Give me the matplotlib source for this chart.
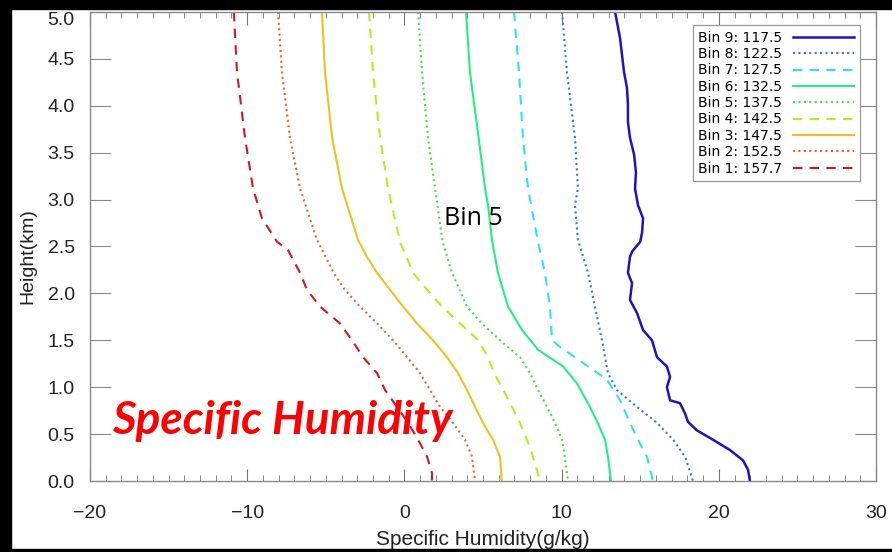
import matplotlib
matplotlib.use('Agg')
import matplotlib.pyplot as plt
from matplotlib.patches import Rectangle
from matplotlib.ticker import MultipleLocator

# profiles: height (km) and specific humidity (g/kg)
h1 = [5.0, 4.36, 3.66, 3.12, 2.8, 2.55, 2.46, 2.22, 2.04, 1.86, 1.68, 1.50, 1.32, 1.15, 0.97, 0.79, 0.62, 0.44, 0.26, 0.08, 0.0]
q1 = [-10.85, -10.65, -10.14, -9.63, -9.06, -8.1, -7.4, -6.64, -6.2, -5.37, -4.1, -3.33, -2.63, -1.74, -1.23, -0.47, 0.23, 0.87, 1.44, 1.76, 1.75]

h2 = [5.0, 4.36, 3.66, 3.12, 2.57, 2.22, 2.04, 1.86, 1.68, 1.50, 1.32, 1.15, 0.97, 0.79, 0.62, 0.44, 0.26, 0.08, 0.0]
q2 = [-8.04, -7.79, -7.28, -6.64, -5.56, -4.5, -3.8, -2.82, -1.74, -0.72, 0.17, 0.99, 1.63, 2.27, 3.09, 3.85, 4.3, 4.43, 4.5]

h3 = [5.0, 4.36, 3.66, 3.12, 2.57, 2.39, 2.22, 2.04, 1.86, 1.68, 1.50, 1.32, 1.15, 0.97, 0.79, 0.62, 0.44, 0.26, 0.0]
q3 = [-5.24, -5.05, -4.6, -3.97, -2.95, -2.38, -1.74, -0.92, -0.09, 0.8, 1.82, 2.71, 3.41, 3.98, 4.5, 5.0, 5.64, 6.08, 6.2]

h4 = [5.0, 4.36, 3.66, 3.12, 2.55, 2.22, 2.04, 1.86, 1.68, 1.50, 1.32, 1.15, 0.97, 0.79, 0.62, 0.44, 0.26, 0.0]
q4 = [-2.25, -2.0, -1.55, -1.04, -0.28, 0.55, 1.44, 2.39, 3.54, 4.7, 5.32, 5.7, 6.3, 6.85, 7.35, 7.8, 8.18, 8.63]

h5 = [5.0, 4.36, 3.66, 3.12, 2.55, 2.22, 1.86, 1.68, 1.50, 1.32, 1.15, 0.97, 0.79, 0.62, 0.44, 0.26, 0.0]
q5 = [0.87, 1.12, 1.5, 1.95, 2.43, 3.03, 3.98, 4.93, 6.08, 7.35, 7.99, 8.5, 9.07, 9.58, 10.03, 10.2, 10.4]

h6 = [5.0, 4.36, 3.66, 3.12, 2.94, 2.57, 2.22, 1.86, 1.61, 1.40, 1.22, 1.04, 0.79, 0.62, 0.44, 0.26, 0.0]
q6 = [3.92, 4.17, 4.72, 5.13, 5.32, 5.57, 5.95, 6.59, 7.48, 8.5, 10.1, 10.98, 11.8, 12.3, 12.76, 12.95, 13.14]

h7 = [5.0, 4.36, 3.66, 3.12, 2.55, 2.22, 1.86, 1.50, 1.43, 1.26, 1.08, 0.86, 0.62, 0.44, 0.26, 0.0]
q7 = [6.97, 7.29, 7.54, 7.86, 8.5, 8.94, 9.26, 9.39, 9.9, 11.36, 12.89, 13.72, 14.35, 14.86, 15.43, 15.81]

h8 = [5.0, 4.36, 3.66, 3.12, 2.94, 2.57, 2.22, 1.86, 1.50, 1.15, 0.97, 0.79, 0.62, 0.44, 0.26, 0.0]
q8 = [10.03, 10.34, 10.85, 11.04, 10.85, 11.04, 11.68, 12.12, 12.57, 12.95, 13.52, 14.8, 16.07, 17.09, 17.85, 18.36]

h9 = [5.0, 4.72, 4.36, 4.19, 4.01, 3.83, 3.66, 3.48, 3.29, 3.12, 2.94, 2.80, 2.65, 2.55, 2.45, 2.39,
      2.22, 2.11, 1.93, 1.79, 1.61, 1.50, 1.32, 1.22, 1.11, 1.00, 0.86, 0.83, 0.72, 0.63, 0.54, 0.44,
      0.33, 0.22, 0.12, 0.0]
q9 = [13.4, 13.72, 13.97, 14.16, 14.22, 14.22, 14.35, 14.61, 14.73, 14.67, 14.86, 15.18, 15.12, 15.0, 14.5, 14.35,
      14.22, 14.48, 14.35, 14.8, 15.18, 15.75, 16.07, 16.7, 16.9, 16.7, 16.9, 17.53, 17.85, 18.04, 18.61, 19.63,
      20.71, 21.54, 21.86, 21.98]

labels = ['Bin 9: 117.5', 'Bin 8: 122.5', 'Bin 7: 127.5', 'Bin 6: 132.5', 'Bin 5: 137.5',
          'Bin 4: 142.5', 'Bin 3: 147.5', 'Bin 2: 152.5', 'Bin 1: 157.7']
heights = [h9, h8, h7, h6, h5, h4, h3, h2, h1]
humid = [q9, q8, q7, q6, q5, q4, q3, q2, q1]
colors = ['#2310c0', '#3a78c8', '#2ee0f0', '#22ee88', '#44e044', '#b0f020', '#f0c020', '#d86a3a', '#d01818']
styles = ['-', ':', '--', '-', ':', '--', '-', ':', '--']

plt.rcParams['font.family'] = ['Liberation Sans', 'DejaVu Sans']

fig = plt.figure(figsize=(8.92, 5.52), dpi=100)
fig.patch.set_facecolor('white')
ax = fig.add_axes([90/892, 71/552, 786/892, 469/552])

lines = []
for i, (h, q, c, s) in enumerate(zip(heights, humid, colors, styles)):
    w = 1.8 if i == 0 else 1.5
    if s == '--':
        ln, = ax.plot(q, h, color=c, linestyle=(0, (4.5, 3.5)), linewidth=w)
    elif s == ':':
        ln, = ax.plot(q, h, color=c, linestyle=(0, (1, 1.6)), linewidth=w)
    else:
        ln, = ax.plot(q, h, color=c, linestyle='-', linewidth=w)
    lines.append(ln)

ax.set_xlim(-20, 30)
ax.set_ylim(0, 5)
ax.xaxis.set_major_locator(MultipleLocator(10))
ax.xaxis.set_minor_locator(MultipleLocator(1))
ax.yaxis.set_major_locator(MultipleLocator(0.5))
ax.yaxis.set_major_formatter(matplotlib.ticker.FormatStrFormatter('%.1f'))
ax.xaxis.set_major_formatter(matplotlib.ticker.FuncFormatter(lambda v, p: '%d' % v if v >= 0 else '\u2212%d' % -v))

for sp in ax.spines.values():
    sp.set_color('#888888')
    sp.set_linewidth(1.0)
ax.tick_params(axis='x', which='major', direction='in', length=9, color='#777777', top=True,
               labelsize=14, labelcolor='#222222', pad=17)
ax.tick_params(axis='x', which='minor', direction='in', length=4, color='#777777', top=True)
ax.tick_params(axis='y', which='major', direction='in', length=15, color='#888888', right=True,
               labelsize=14, labelcolor='#222222', pad=11)

ax.set_xlabel('Specific Humidity(g/kg)', fontsize=15, color='#222222', labelpad=6)
ax.set_ylabel('Height(km)', fontsize=14, color='#222222')
ax.yaxis.set_label_coords(-0.068, 0.48)

leg = ax.legend(lines, labels, loc='upper right', bbox_to_anchor=(0.9796, 0.972), borderaxespad=0,
                prop={'family': 'DejaVu Sans', 'size': 10}, markerfirst=False,
                handlelength=4.4, handletextpad=0.8, labelspacing=0.17,
                fancybox=False, framealpha=1, edgecolor='#999999', borderpad=0.4)
leg.get_frame().set_linewidth(0.9)

ax.text(4.36, 2.8, 'Bin 5', fontsize=18, family=['Open Sans', 'DejaVu Sans'], color='black',
        ha='center', va='center')
ax.text(-18.6, 0.5, 'Specific Humidity', fontsize=33, family=['Lato', 'DejaVu Sans'],
        fontweight='bold', fontstyle='italic', color='#ff0000', ha='left', va='baseline')

# black border left by the screenshot
fig.patches.append(Rectangle((0, 0), 1, 3/552, transform=fig.transFigure, color='black', zorder=-1))
fig.patches.append(Rectangle((0, 1 - 9/552), 1, 9/552, transform=fig.transFigure, color='black', zorder=-1))
fig.patches.append(Rectangle((0, 0), 11/892, 1, transform=fig.transFigure, color='black', zorder=-1))

# top tick label sits just below the border in the original
fig.canvas.draw()
for t in ax.yaxis.get_major_ticks():
    if t.get_loc() is not None and abs(t.get_loc() - 5.0) < 1e-6:
        t.label1.set_verticalalignment('top')

fig.savefig('out.png', dpi=100)
